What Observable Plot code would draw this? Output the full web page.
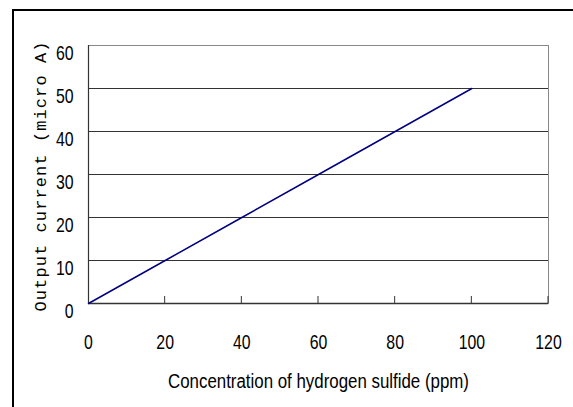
<!DOCTYPE html>
<html>
<head>
<meta charset="utf-8">
<script src="https://cdn.jsdelivr.net/npm/d3@7"></script>
<script src="https://cdn.jsdelivr.net/npm/@observablehq/plot@0.6"></script>
<style>
  html, body { margin: 0; padding: 0; background: #fff; width: 573px; height: 407px; overflow: hidden; }
  #frame { position: absolute; left: 12px; top: 9px; width: 700px; height: 600px; border-top: 2px solid #000; border-left: 2px solid #000; }
  #chart { position: absolute; left: 0; top: 0; }
</style>
</head>
<body>
<div id="frame"></div>
<div id="chart"></div>
<script>
const concentration = [0, 20, 40, 60, 80, 100];
const current = [0, 10, 20, 30, 40, 50];
const xTicks = [0, 20, 40, 60, 80, 100, 120];
const yTicks = [0, 10, 20, 30, 40, 50, 60];
const xTitle = "Concentration of hydrogen sulfide (ppm)";
const yTitle = "Output current (micro A)";

const data = concentration.map((c, i) => ({c, v: current[i]}));
const font = "'Liberation Sans', Arial, sans-serif";

const chart = Plot.plot({
  width: 573,
  height: 407,
  marginLeft: 88,
  marginRight: 25,
  marginTop: 45,
  marginBottom: 104,
  style: {fontFamily: font, fontSize: "21px", color: "#000", background: "transparent"},
  x: {domain: [0, 120]},
  y: {domain: [0, 60]},
  marks: [
    Plot.gridY(yTicks.filter(d => d > 0 && d < 60), {stroke: "#333", strokeOpacity: 1, strokeWidth: 1}),
    Plot.frame({stroke: "#888", strokeWidth: 1}),
    Plot.ruleX([0], {stroke: "#333", strokeWidth: 1.2}),
    Plot.ruleY([0], {stroke: "#333", strokeWidth: 1.5}),
    Plot.axisX({ticks: xTicks, tickSize: 0, tickPadding: 31, tickFormat: d => String(d), label: null, fontSize: 21}),
    Plot.axisY({ticks: yTicks, tickSize: 0, tickPadding: 15, tickFormat: d => String(d), label: null, fontSize: 21}),
    Plot.line(data, {x: "c", y: "v", stroke: "#000080", strokeWidth: 1.5}),
    Plot.text([xTitle], {text: d => d, frameAnchor: "bottom", lineAnchor: "middle", textAnchor: "middle", dy: 78,
      fontSize: 20, fill: "#000"}),
    Plot.text([yTitle], {text: d => d, frameAnchor: "left", lineAnchor: "middle", textAnchor: "middle", dx: -48, dy: 2, rotate: -90,
      fontSize: 17, fontFamily: "'Liberation Mono', 'DejaVu Sans Mono', monospace", fill: "#000"})
  ]
});
document.getElementById("chart").appendChild(chart);

const sx = chart.scale("x"), sy = chart.scale("y");
const svg = d3.select(chart);
// x tick marks pointing up inside the plot
const g = svg.append("g").attr("stroke", "#333").attr("stroke-width", 1);
xTicks.filter(d => d > 0).forEach(d => {
  g.append("line").attr("x1", sx.apply(d)).attr("x2", sx.apply(d))
    .attr("y1", sy.apply(0)).attr("y2", sy.apply(0) - 7);
});
// narrow digits like the original
svg.selectAll("g[aria-label='x-axis tick label'] text, g[aria-label='y-axis tick label'] text")
  .each(function() {
    const t = d3.select(this);
    t.attr("textLength", t.text().length * 8.8).attr("lengthAdjust", "spacingAndGlyphs");
  });
svg.selectAll("g[aria-label='y-axis tick label'] text").attr("dy", "0.38em");
svg.selectAll("text").filter(function() { return this.textContent === xTitle; })
  .attr("textLength", 301).attr("lengthAdjust", "spacingAndGlyphs");
svg.selectAll("text").filter(function() { return this.textContent === yTitle; })
  .attr("textLength", 270).attr("lengthAdjust", "spacing");
</script>
</body>
</html>
